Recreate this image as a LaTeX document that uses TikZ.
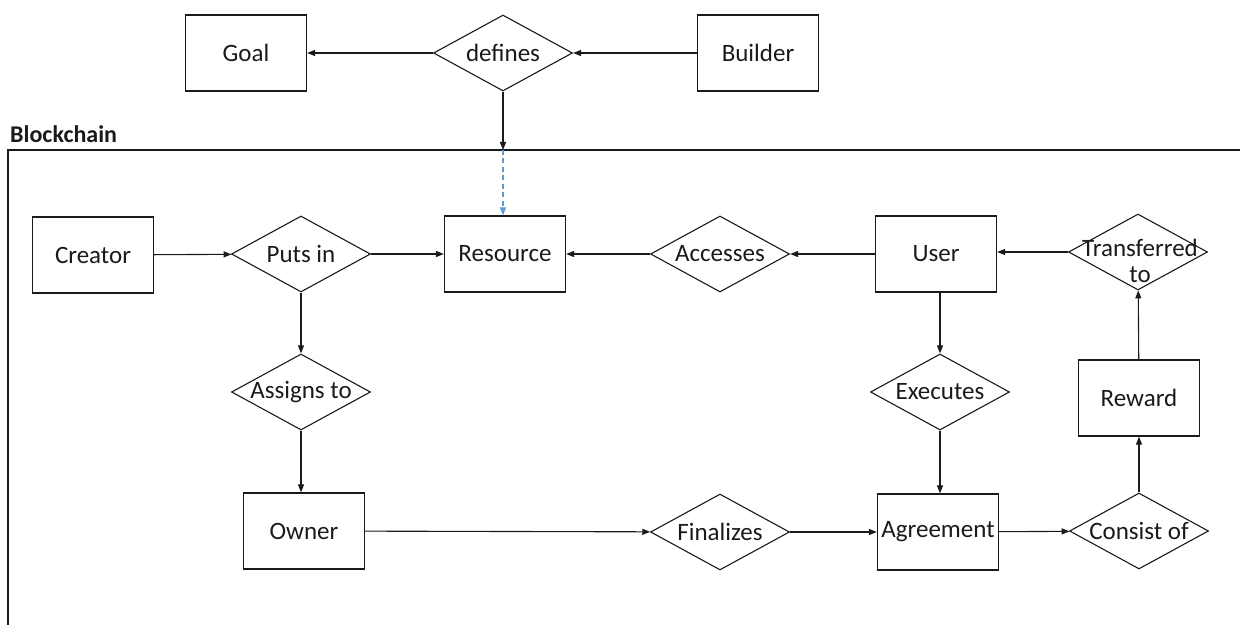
\documentclass[tikz,border=0pt]{standalone}
\usepackage{fontspec}
\setmainfont{Carlito}
\usetikzlibrary{shapes.geometric,arrows.meta}
\definecolor{dashblue}{HTML}{5B9BD5}
\definecolor{ink}{HTML}{1A1A1A}
\begin{document}
\begin{tikzpicture}[x=1bp,y=-1bp,
  every node/.style={text=ink, font=\fontsize{25bp}{29bp}\selectfont},
  ent/.style={draw=ink, line width=1.2bp, minimum width=121bp, minimum height=76bp, inner sep=0pt},
  rel/.style={diamond, draw=ink, line width=1.1bp, minimum width=139bp, minimum height=76bp, inner sep=0pt},
  conn/.style={draw=ink, line width=1.1bp, -{Triangle[length=8bp,width=6bp]}}
]
\useasboundingbox (0,0) rectangle (1240,625);
% frame
\draw[ink, line width=1.2bp] (1240,150) -- (8,150) -- (8,625);
\node[anchor=west, font=\fontsize{24bp}{28bp}\selectfont\bfseries, inner sep=0pt] (bclabel) at (10,134) {Blockchain};
% nodes
\node[ent] (goal) at (246,53) {Goal};
\node[rel] (defines) at (503,53) {\makebox[0pt]{defines}};
\node[ent] (builder) at (758,53) {Builder};
\node[ent] (creator) at (93,255) {Creator};
\node[rel] (putsin) at (301,254) {\makebox[0pt]{Puts in}};
\node[ent] (resource) at (505,254) {Resource};
\node[rel] (accesses) at (720,254) {\makebox[0pt]{Accesses}};
\node[ent] (user) at (936,254) {User};
\node[rel] (trans) at (1138,252) {};
\node[align=center, inner sep=0pt] (transtext) at (1140,261) {Transferred\\[-3bp]to};
\node[rel] (assigns) at (301,392) {\makebox[0pt]{Assigns to}};
\node[rel] (executes) at (940,392) {\makebox[0pt]{Executes}};
\node[ent] (reward) at (1139,398) {Reward};
\node[ent] (owner) at (304,531) {Owner};
\node[rel] (finalizes) at (720,532) {\makebox[0pt]{Finalizes}};
\node[ent] (agreement) at (938,532) {\makebox[0pt]{Agreement}};
\node[rel] (consist) at (1139,531) {\makebox[0pt]{Consist of}};
\coordinate (bc) at (503,150);
% connectors
\draw[conn] (builder) -- (defines);
\draw[conn] (defines) -- (goal);
\draw[conn] (defines.south) -- (bc);
\draw[conn, draw=dashblue, dash pattern=on 5bp off 3.5bp, -{Triangle[length=8bp,width=6bp,fill=dashblue]}] (bc) -- (bc |- resource.north);
\draw[conn] (creator) -- (putsin);
\draw[conn] (putsin) -- (resource);
\draw[conn] (accesses) -- (resource);
\draw[conn] (user) -- (accesses);
\draw[conn] (trans.west) -- (user.east |- trans.west);
\draw[conn] (putsin) -- (assigns);
\draw[conn] (assigns.south) -- (assigns.south |- owner.north);
\draw[conn] (owner) -- (finalizes);
\draw[conn] (finalizes) -- (agreement);
\draw[conn] (executes.north |- user.south) -- (executes.north);
\draw[conn] (executes.south) -- (executes.south |- agreement.north);
\draw[conn] (agreement) -- (consist);
\draw[conn] (consist) -- (reward);
\draw[conn] (reward) -- (trans);
\end{tikzpicture}
\end{document}
